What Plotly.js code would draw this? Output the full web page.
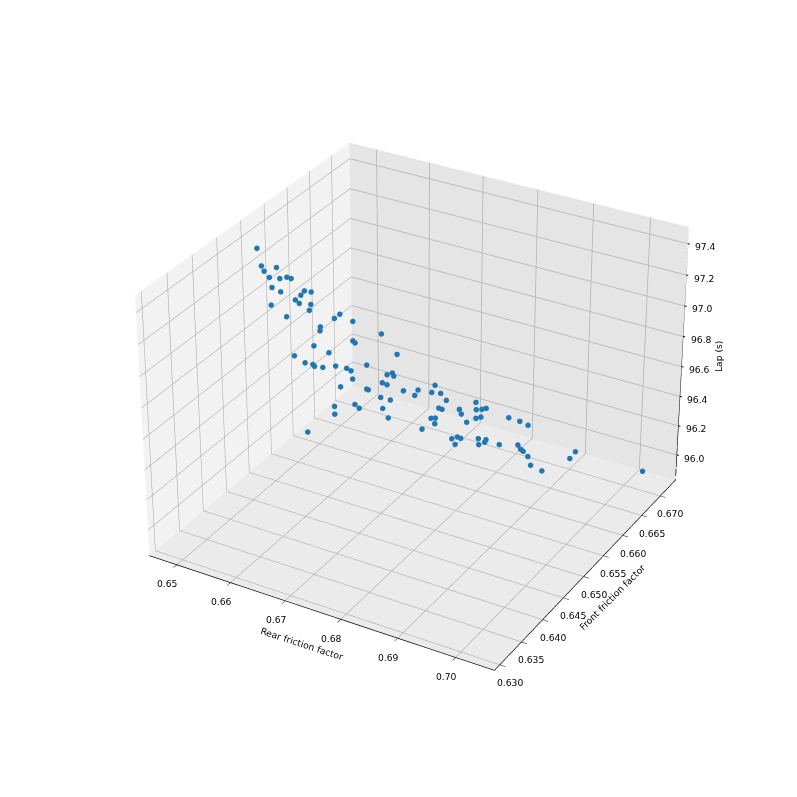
<!DOCTYPE html><html><head><script src="https://cdn.plot.ly/plotly-3.0.1.min.js"></script></head><body style="margin:0;background:#fff;overflow:hidden;width:797px;height:797px;position:relative"><div id="g" style="position:absolute"></div>
<script>
const rearFriction=[.64773,.65008,.65088,.65134,.65197,.65283,.65319,.65365,.65329,.65441,.65522,.65602,.65662,.65624,.65637,.65706,.65801,.65857,.65763,.66124,.66131,.66302,.66120,.66162,.66656,.66516,.66555,.66281,.66468,.67002,.66247,.66401,.66475,.66509,.66581,.66662,.66769,.66828,.66885,.66929,.66921,.67145,.67167,.67210,.67194,.67252,.67142,.67162,.67442,.67549,.67579,.67337,.67440,.67215,.67287,.67083,.67469,.67166,.67610,.67151,.67632,.67681,.67762,.67881,.67902,.67942,.67949,.67980,.68035,.67990,.68080,.68145,.68275,.68140,.68220,.68262,.68286,.68308,.68335,.68570,.68699,.68809,.68326,.68353,.68394,.68410,.68539,.68604,.68612,.68628,.68772,.68928,.68995,.69037,.69131,.69242,.69394,.69506,.69486,.70273];
const frontFriction=[.64994,.64816,.64780,.64989,.64764,.64885,.64993,.65031,.64665,.64718,.64422,.65037,.65111,.64933,.64800,.64803,.64937,.64839,.64464,.65184,.65055,.65255,.64761,.64704,.65462,.64993,.64995,.64429,.64528,.65387,.64056,.64098,.64174,.64169,.64260,.64438,.64548,.64571,.64848,.64483,.64231,.64980,.65072,.65050,.64812,.64846,.64529,.64540,.64977,.65177,.65063,.64598,.64685,.64182,.64187,.63903,.64479,.63808,.64426,.63258,.65464,.65325,.65430,.65408,.65204,.65229,.64965,.65024,.64940,.64706,.65456,.65418,.65376,.65774,.65676,.65757,.65829,.65553,.65637,.66002,.66100,.66156,.64959,.65054,.65081,.64927,.65305,.65229,.65392,.65340,.65499,.65743,.65719,.65726,.65714,.65631,.65703,.66254,.66427,.67080];
const lapTime=[97.356,97.305,97.287,97.268,97.261,97.235,97.223,97.210,97.232,97.203,97.194,97.152,97.134,97.150,97.152,97.135,97.107,97.097,97.134,97.019,97.022,96.973,97.035,97.027,96.878,96.930,96.920,97.008,96.959,96.797,97.030,96.991,96.970,96.962,96.941,96.915,96.885,96.869,96.845,96.848,96.859,96.777,96.768,96.758,96.771,96.756,96.794,96.789,96.704,96.671,96.667,96.744,96.716,96.789,96.771,96.832,96.716,96.815,96.683,96.839,96.640,96.633,96.609,96.581,96.583,96.573,96.581,96.571,96.561,96.580,96.531,96.516,96.486,96.504,96.488,96.475,96.466,96.471,96.461,96.390,96.355,96.326,96.489,96.479,96.468,96.469,96.424,96.411,96.403,96.401,96.360,96.312,96.297,96.286,96.264,96.240,96.200,96.152,96.151,95.934];
const rearTicks=[.65,.66,.67,.68,.69,.70];
const frontTicks=[.63,.635,.64,.645,.65,.655,.66,.665,.67];
const lapTicks=[96,96.2,96.4,96.6,96.8,97,97.2,97.4];
const rearRange=[.6448,.7066],frontRange=[.6288,.6742],lapRange=[95.827,97.506];
const H=2400,CX=418,CY=392;
const g=document.getElementById('g');g.style.left=(CX-H/2)+'px';g.style.top=(CY-H/2)+'px';
const font={family:'DejaVu Sans',size:9.2,color:'#000'};
const ann=[];
rearTicks.forEach(t=>ann.push({x:t,y:frontRange[0],z:lapRange[0],text:t.toFixed(2),showarrow:false,font,xshift:-9,yshift:-19}));
frontTicks.forEach(t=>ann.push({x:rearRange[1],y:t,z:lapRange[0],text:t.toFixed(3),showarrow:false,font,xshift:10,yshift:-18}));
lapTicks.forEach(t=>{ann.push({x:rearRange[1],y:frontRange[1],z:t,text:t.toFixed(1),showarrow:false,font,xshift:18,yshift:-3});
 ann.push({x:rearRange[1],y:frontRange[1],z:t,showarrow:true,arrowhead:0,arrowwidth:1,arrowcolor:'#000',ax:5,ay:1,standoff:0});});
ann.push({x:.6757,y:frontRange[0],z:lapRange[0],text:'Rear friction factor',showarrow:false,font,textangle:18,xshift:-15,yshift:-32});
ann.push({x:rearRange[1],y:.6515,z:lapRange[0],text:'Front friction factor',showarrow:false,font,textangle:-45,xshift:22,yshift:-27});
ann.push({x:rearRange[1],y:frontRange[1],z:96.67,text:'Lap (s)',showarrow:false,font,textangle:-90,xshift:36,yshift:0});
const ax=(range,vals,bg)=>({range,tickmode:'array',tickvals:vals,showticklabels:false,title:{text:''},autorange:false,showbackground:true,backgroundcolor:bg,gridcolor:'#b0b0b0',gridwidth:1.5,zeroline:false,showline:true,linecolor:'#000',linewidth:1.5,ticks:'outside',ticklen:5,tickcolor:'#000',showspikes:false});
const e=H/(.828*395);
const zaxis=Object.assign(ax(lapRange,lapTicks,'#ebebeb'),{showline:false,ticks:''});
Plotly.newPlot(g,[
 {type:'scatter3d',mode:'markers',x:rearFriction,y:frontFriction,z:lapTime,marker:{size:3.2,color:'#1f77b4',opacity:1,line:{width:0}},hoverinfo:'skip'},
 {type:'scatter3d',mode:'lines',x:[rearRange[1],rearRange[1]],y:[frontRange[1],frontRange[1]],z:lapRange,line:{color:'#000',width:1.5},hoverinfo:'skip'}
],{
 width:H,height:H,margin:{l:0,r:0,t:0,b:0},paper_bgcolor:'#fff',showlegend:false,
 scene:{domain:{x:[0,1],y:[0,1]},aspectmode:'manual',aspectratio:{x:1,y:1,z:.75},
  camera:{eye:{x:.433*e,y:-.75*e,z:.5*e},center:{x:0,y:0,z:0},up:{x:0,y:0,z:1},projection:{type:'perspective'}},
  xaxis:ax(rearRange,rearTicks,'#f2f2f2'),yaxis:ax(frontRange,frontTicks,'#e5e5e5'),zaxis,annotations:ann}
},{displayModeBar:false});
</script></body></html>
